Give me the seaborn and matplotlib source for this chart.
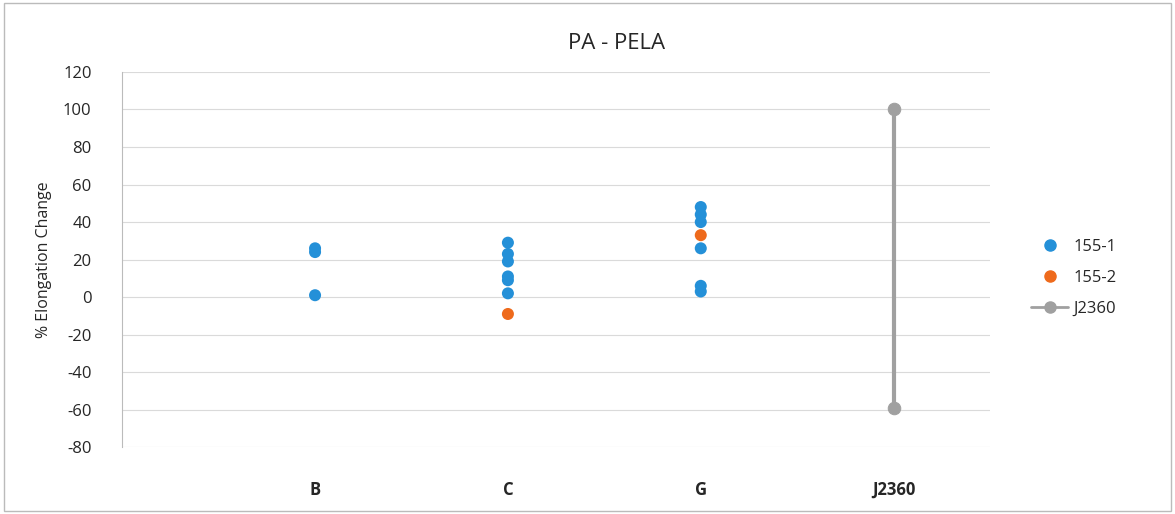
import numpy as np
import pandas as pd
import matplotlib
matplotlib.use("Agg")
import matplotlib.pyplot as plt
from matplotlib.lines import Line2D
import seaborn as sns

categories = ["B", "C", "G", "J2360"]

# 155-1 samples (blue)
s1_cat = ["B", "B", "B", "C", "C", "C", "C", "C", "C", "G", "G", "G", "G", "G", "G"]
s1_val = [24, 26, 1, 29, 23, 19, 11, 9, 2, 48, 44, 40, 26, 6, 3]

# 155-2 samples (orange)
s2_cat = ["C", "G"]
s2_val = [-9, 33]

# J2360 range (gray line)
j_cat = ["J2360", "J2360"]
j_val = [100, -59]

pos = {c: i + 1 for i, c in enumerate(categories)}
df = pd.DataFrame({
    "x": [pos[c] for c in s1_cat + s2_cat],
    "y": s1_val + s2_val,
    "series": ["155-1"] * len(s1_val) + ["155-2"] * len(s2_val),
})
dj = pd.DataFrame({"x": [pos[c] for c in j_cat], "y": j_val})

sns.set_style("white")
plt.rcParams["font.family"] = ["Open Sans", "DejaVu Sans"]
plt.rcParams["axes.unicode_minus"] = False

fig = plt.figure(figsize=(11.75, 5.14), dpi=100)
ax = fig.add_axes([0.104, 0.130, 0.7386, 0.730])

colors = {"155-1": "#2490D8", "155-2": "#EE6A1C"}
sns.scatterplot(data=df, x="x", y="y", hue="series", palette=colors, s=75,
                edgecolor="none", ax=ax, legend=False, zorder=3)
sns.lineplot(data=dj, x="x", y="y", color="#A0A0A0", linewidth=3, marker="o",
             markersize=9, markeredgecolor="#A0A0A0", estimator=None,
             sort=False, ax=ax, zorder=2, legend=False)

ax.set_xlim(0, 4.5)
ax.set_ylim(-80, 120)
ax.set_yticks(np.arange(-80, 121, 20))
ax.set_xticks([pos[c] for c in categories])
ax.set_xticklabels(categories, fontweight="bold", fontsize=12)
ax.tick_params(axis="x", length=0, pad=24)
ax.tick_params(axis="y", length=0, pad=22, labelsize=12)
ax.grid(axis="y", color="#DADADA", linewidth=0.8)
ax.grid(axis="x", visible=False)
ax.set_axisbelow(True)
for s in ["top", "right", "bottom"]:
    ax.spines[s].set_visible(False)
ax.spines["left"].set_color("#BBBBBB")
ax.set_xlabel("")
ax.set_ylabel("% Elongation Change", fontsize=11.5, labelpad=8)
fig.text(0.525, 0.915, "PA - PELA", fontsize=16, ha="center", va="center")

handles = [
    Line2D([], [], marker="o", linestyle="none", color=colors["155-1"], markersize=8),
    Line2D([], [], marker="o", linestyle="none", color=colors["155-2"], markersize=8),
    Line2D([], [], marker="o", color="#A0A0A0", linewidth=2, markersize=8),
]
fig.legend(handles, ["155-1", "155-2", "J2360"], loc="center left",
           bbox_to_anchor=(0.865, 0.46), frameon=False, fontsize=12,
           labelspacing=0.9, handlelength=2.2, handletextpad=0.3)

fig.patches.append(plt.Rectangle((0.003, 0.005), 0.994, 0.99, transform=fig.transFigure,
                                 fill=False, edgecolor="#BBBBBB", linewidth=1))

fig.savefig("out.png", dpi=100)
